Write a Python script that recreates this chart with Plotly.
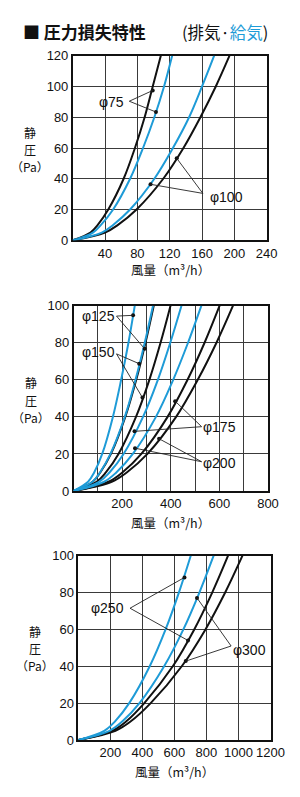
import plotly.graph_objects as go

W, H = 300, 797
BLUE = '#1e9bd7'
BLACK = '#111111'
FONT = 'Liberation Sans, Arial, Noto Sans CJK JP, sans-serif'
JP = 'Noto Sans CJK JP'

# ---------------- data: chart 1 (phi75 / phi100) ----------------
c1_y = [0, 5, 10, 20, 40, 60, 80, 100, 120]
c1_black75 = [0, 22, 31, 44, 63, 77, 89, 99, 109]
c1_blue75 = [0, 25, 35, 50, 71, 87, 101, 113, 123]
c1_blue100 = [0, 36, 50, 71, 101, 124, 144, 160, 175]
c1_black100 = [0, 40, 56, 79, 112, 137, 158, 177, 194]
c1_xticks = [40, 80, 120, 160, 200, 240]
c1_yticks = [0, 20, 40, 60, 80, 100, 120]

# ---------------- data: chart 2 (phi125..phi200) ----------------
c2_y = [0, 5, 10, 20, 40, 60, 80, 100]
c2_blue125 = [0, 60, 85, 118, 162, 196, 226, 252]
c2_blue150 = [0, 78, 109, 152, 211, 255, 293, 327]
c2_black125 = [0, 79, 110, 154, 213, 258, 296, 330]
c2_black150 = [0, 95, 133, 185, 257, 312, 358, 399]
c2_blue175 = [0, 106, 148, 206, 286, 347, 398, 444]
c2_blue200 = [0, 126, 176, 244, 339, 410, 471, 526]
c2_black175 = [0, 144, 201, 279, 387, 469, 539, 601]
c2_black200 = [0, 157, 219, 304, 422, 511, 588, 656]
c2_xticks = [100, 200, 300, 400, 500, 600, 700, 800]
c2_xlabels = ['', '200', '', '400', '', '600', '', '800']
c2_yticks = [0, 20, 40, 60, 80, 100]

# ---------------- data: chart 3 (phi250 / phi300) ----------------
c3_y = [0, 5, 10, 20, 40, 60, 80, 100]
c3_blue250 = [0, 162, 228, 318, 446, 545, 628, 702]
c3_blue300 = [0, 195, 274, 382, 536, 656, 756, 845]
c3_black250 = [0, 212, 298, 412, 590, 724, 836, 935]
c3_black300 = [0, 232, 326, 452, 646, 794, 917, 1025]
c3_xticks = [200, 400, 600, 800, 1000, 1200]
c3_yticks = [0, 20, 40, 60, 80, 100]

# label / leader-line anchors (data units)
c1_labels = [('φ75', 48, 90, (70, 90.4), [(99, 97.4), (103, 83.4)]),
             ('φ100', 190, 28.3, (161, 30.5), [(96.3, 36.4), (128.7, 53.3)])]
c2_labels = [('φ125', 102, 94.4, (177, 94.4), [(245, 94.8), (293, 76.7)]),
             ('φ150', 102, 74.8, (177, 74.0), [(270, 68.7), (283.6, 50.4)]),
             ('φ175', 599, 34.7, (527, 34.7), [(251, 32.2), (418, 48.5)]),
             ('φ200', 599, 15.3, (527, 15.8), [(253, 23.1), (352, 28.2)])]
c3_labels = [('φ250', 184, 71.5, (323, 71.5), [(663, 88.2), (685, 54.0)]),
             ('φ300', 1069, 48.8, (954, 51.0), [(741, 77.1), (671, 42.8)])]

fig = go.Figure()


def curve(x, y, color, ax):
    fig.add_trace(go.Scatter(x=x, y=y, mode='lines', line=dict(color=color, width=2, shape='spline', smoothing=1.0),
                             xaxis='x' + ax, yaxis='y' + ax, hoverinfo='skip', showlegend=False))


curve(c1_black75, c1_y, BLACK, '')
curve(c1_blue75, c1_y, BLUE, '')
curve(c1_black100, c1_y, BLACK, '')
curve(c1_blue100, c1_y, BLUE, '')

curve(c2_black125, c2_y, BLACK, '2')
curve(c2_black150, c2_y, BLACK, '2')
curve(c2_black175, c2_y, BLACK, '2')
curve(c2_black200, c2_y, BLACK, '2')
curve(c2_blue125, c2_y, BLUE, '2')
curve(c2_blue150, c2_y, BLUE, '2')
curve(c2_blue175, c2_y, BLUE, '2')
curve(c2_blue200, c2_y, BLUE, '2')

curve(c3_black250, c3_y, BLACK, '3')
curve(c3_black300, c3_y, BLACK, '3')
curve(c3_blue250, c3_y, BLUE, '3')
curve(c3_blue300, c3_y, BLUE, '3')

shapes = []
annotations = []


def add_labels(labels, ax):
    xr = 'x' + ax
    yr = 'y' + ax
    mx, my = [], []
    for text, lx, ly, (sx, sy), pts in labels:
        annotations.append(dict(text=text, x=lx, y=ly, xref=xr, yref=yr, showarrow=False,
                                font=dict(size=14, color=BLACK, family=FONT), xanchor='center', yanchor='middle'))
        for (px_, py_) in pts:
            shapes.append(dict(type='line', xref=xr, yref=yr, x0=sx, y0=sy, x1=px_, y1=py_,
                               line=dict(color='#222', width=0.9)))
            mx.append(px_)
            my.append(py_)
    fig.add_trace(go.Scatter(x=mx, y=my, mode='markers', marker=dict(color=BLACK, size=4),
                             xaxis=xr, yaxis=yr, hoverinfo='skip', showlegend=False, cliponaxis=False))


add_labels(c1_labels, '')
add_labels(c2_labels, '2')
add_labels(c3_labels, '3')


def px(x):
    return x / W


def py(y):
    return 1 - y / H


def axstyle(**kw):
    d = dict(showline=True, mirror=True, linecolor=BLACK, linewidth=1.5, showgrid=True, gridcolor='#3a3a3a',
             gridwidth=1, zeroline=False, ticks='', tickfont=dict(size=13, color=BLACK, family=FONT),
             fixedrange=True, layer='below traces', automargin=False, tickangle=0)
    d.update(kw)
    return d


layout = dict(
    template='none',
    width=W, height=H, margin=dict(l=0, r=0, t=0, b=0, pad=0),
    paper_bgcolor='white', plot_bgcolor='white', showlegend=False,
    font=dict(family=FONT, color=BLACK),
    xaxis=axstyle(domain=[px(72.7), px(266.7)], range=[0, 240], tickmode='array', tickvals=c1_xticks, anchor='y'),
    yaxis=axstyle(domain=[py(240.3), py(55.7)], range=[0, 120], tickmode='array', tickvals=c1_yticks, anchor='x'),
    xaxis2=axstyle(domain=[px(73.5), px(268.0)], range=[0, 800], tickmode='array', tickvals=c2_xticks,
                   ticktext=c2_xlabels, anchor='y2'),
    yaxis2=axstyle(domain=[py(491.0), py(305.7)], range=[0, 100], tickmode='array', tickvals=c2_yticks, anchor='x2'),
    xaxis3=axstyle(domain=[px(78.3), px(270.5)], range=[0, 1200], tickmode='array', tickvals=c3_xticks, anchor='y3'),
    yaxis3=axstyle(domain=[py(740.0), py(555.7)], range=[0, 100], tickmode='array', tickvals=c3_yticks, anchor='x3'),
)

# titles
annotations.append(dict(text='<b>■ 圧力損失特性</b>', x=px(21), y=py(32), xref='paper', yref='paper',
                        showarrow=False, xanchor='left', yanchor='middle',
                        font=dict(size=17, color=BLACK, family=JP)))
annotations.append(dict(text='(排気·<span style="color:%s">給気</span>)' % BLUE, x=px(180), y=py(32),
                        xref='paper', yref='paper', showarrow=False, xanchor='left', yanchor='middle',
                        font=dict(size=16.5, color=BLACK, family=JP)))

# axis titles (stacked vertically, one annotation per line)
for ycen, xcen in [(150, 30), (400, 31), (648, 35)]:
    for dy, t in [(-17, '静'), (0, '圧'), (17, '（Pa）')]:
        annotations.append(dict(text=t, x=px(xcen), y=py(ycen + dy), xref='paper', yref='paper',
                                showarrow=False, xanchor='center', yanchor='middle', borderpad=0,
                                font=dict(size=12, color=BLACK, family=JP)))
for ycen, xcen in [(270, 170), (522, 171), (771, 174)]:
    annotations.append(dict(text='風量（m³/h）', x=px(xcen), y=py(ycen), xref='paper', yref='paper',
                            showarrow=False, xanchor='center', yanchor='middle', borderpad=0,
                            font=dict(size=12.5, color=BLACK, family=JP)))

layout['shapes'] = shapes
layout['annotations'] = annotations
fig.update_layout(**layout)
fig.write_html('out.html')
